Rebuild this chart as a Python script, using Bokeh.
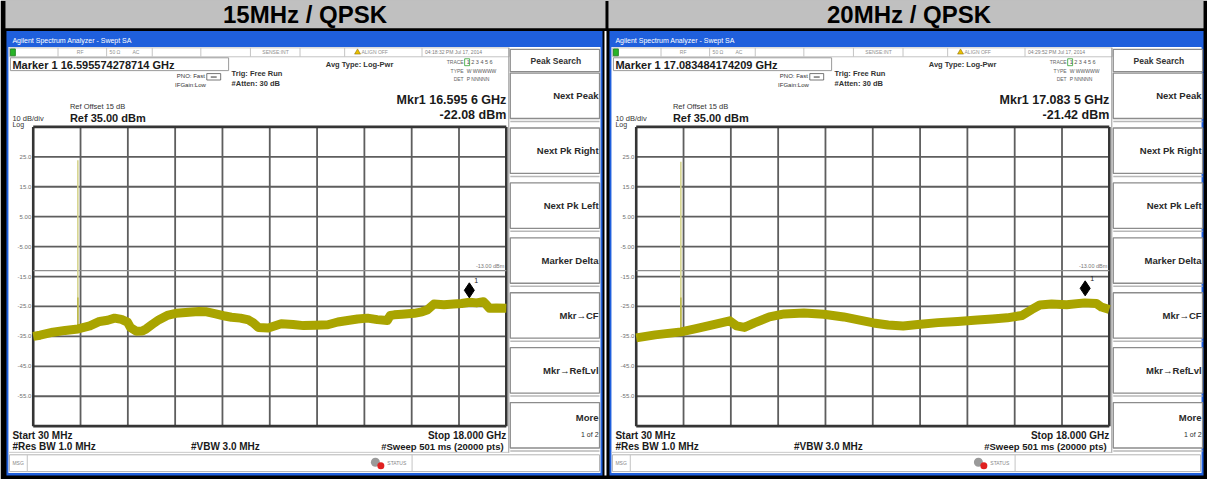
from bokeh.plotting import figure
from bokeh.models import Range1d
from bokeh.core.properties import value
from bokeh.embed import file_html
from bokeh.resources import INLINE

# ---------------- data ----------------
panel_titles = ["15MHz / QPSK", "20MHz / QPSK"]
marker_freq_text = ["16.595574278714 GHz", "17.083484174209 GHz"]
mkr_freq_label = ["16.595 6 GHz", "17.083 5 GHz"]
mkr_level_text = ["-22.08 dBm", "-21.42 dBm"]
mkr_freq_ghz = [16.5956, 17.0835]
mkr_level_dbm = [-22.08, -21.42]
timestamps = ["04:18:32 PM Jul 17, 2014", "04:29:52 PM Jul 17, 2014"]

f_start_ghz = 0.03
f_stop_ghz = 18.0
ref_level_dbm = 35.0
db_per_div = 10.0
display_line_dbm = -13.0
y_tick_values = [25, 15, 5, -5, -15, -25, -35, -45, -55]
y_tick_labels = ["25.0", "15.0", "5.00", "-5.00", "-15.0", "-25.0", "-35.0", "-45.0", "-55.0"]

spike_freq_ghz = [1.725, 1.725]
spike_top_dbm = [23.9, 23.4]
spike_base_dbm = [-32.5, -33.5]

trace1_freq = [0.03, 0.29, 0.78, 1.24, 1.73, 2.18, 2.55, 2.86, 3.12, 3.38, 3.61, 3.72,
               3.95, 4.17, 4.32, 4.55, 4.81, 5.12, 5.45, 5.94, 6.32, 6.62, 6.96, 7.26,
               7.56, 7.90, 8.21, 8.39, 8.58, 8.96, 9.45, 9.90, 10.30, 10.73, 11.22, 11.60,
               11.97, 12.35, 12.73, 13.10, 13.48, 13.59, 13.74, 14.04, 14.50, 14.80, 14.99,
               15.25, 15.63, 16.00, 16.30, 16.61, 16.87, 17.13, 17.25, 17.36, 17.62, 18.00]
trace1_dbm = [-35.0, -34.6, -33.6, -33.0, -32.5, -31.5, -30.0, -29.6, -28.9, -29.3, -30.2, -32.0,
              -33.3, -33.2, -32.5, -31.0, -29.4, -28.0, -27.3, -26.9, -26.7, -26.8, -27.5, -28.1,
              -28.6, -28.9, -29.5, -30.5, -32.0, -32.2, -30.8, -31.0, -31.4, -31.3, -31.1, -30.2,
              -29.7, -29.2, -28.9, -29.4, -29.7, -28.0, -27.8, -27.6, -27.3, -26.8, -26.2,
              -24.2, -24.4, -24.2, -24.0, -23.6, -23.8, -23.4, -24.5, -25.6, -25.5, -25.6]

trace2_freq = [0.03, 0.75, 1.73, 2.26, 3.01, 3.58, 3.84, 4.14, 4.52, 5.09, 5.65, 6.40,
               7.15, 7.91, 8.47, 9.04, 9.60, 10.17, 10.73, 11.49, 12.24, 12.99, 13.56, 14.12,
               14.69, 15.06, 15.36, 15.81, 16.38, 17.06, 17.51, 17.70, 18.00]
trace2_dbm = [-35.5, -34.5, -33.5, -32.5, -31.0, -29.8, -31.5, -32.0, -30.5, -28.5, -27.5, -27.2,
              -27.6, -28.5, -29.5, -30.5, -31.2, -31.5, -31.0, -30.4, -30.0, -29.5, -29.2, -28.8,
              -28.0, -26.0, -24.5, -24.2, -24.4, -23.8, -24.0, -25.2, -26.0]

traces_freq = [trace1_freq, trace2_freq]
traces_dbm = [trace1_dbm, trace2_dbm]

softkeys = ["Next Peak", "Next Pk Right", "Next Pk Left", "Marker Delta",
            "Mkr\u2192CF", "Mkr\u2192RefLvl", "More"]

# ---------------- layout (reference pixel units) ----------------
W, H = 1217.0, 485.0
OX = [0, 608]
GL = [33.0, 641.0]
GR = [510.0, 1118.0]
GT, GB = 128.0, 431.0
BLUE = "#1f5fdc"
TRACE = "#a9a400"
GRID = "#5e5e5e"

FONT = value("Liberation Sans")

p = figure(width=1207, height=479, x_range=Range1d(0, W), y_range=Range1d(H, 0),
           x_axis_type=None, y_axis_type=None, output_backend="svg",
           toolbar_location=None, min_border=0, outline_line_color=None,
           background_fill_color="white", border_fill_color="white")

px_per_db = (GB - GT) / (10 * db_per_div)
db_top = ref_level_dbm + GT / px_per_db
db_bot = db_top - H / px_per_db
p.extra_y_ranges = {"db": Range1d(db_bot, db_top)}
xr = {}
for i in range(2):
    s = (GR[i] - GL[i]) / (f_stop_ghz - f_start_ghz)
    st = f_start_ghz - GL[i] / s
    xr["f%d" % i] = Range1d(st, st + W / s)
p.extra_x_ranges = xr


def box(l, r, t, b, fill, line=None, lw=1.0):
    p.quad(left=[l], right=[r], top=[t], bottom=[b], fill_color=fill,
           line_color=line, line_width=lw)


def seg(x0, y0, x1, y1, color, w=1.0):
    p.segment(x0=[x0], y0=[y0], x1=[x1], y1=[y1], line_color=color, line_width=w)


def txt(x, y, s, size, bold=False, align="left", color="#222222", baseline="middle"):
    p.text(x=[x], y=[y], text=[s], text_font=FONT, text_font_size="%.1fpx" % size,
           text_font_style="bold" if bold else "normal", text_align=align,
           text_baseline=baseline, text_color=color)


# ---------------- table ----------------
box(0, W, 0, H, "black")
box(5, 610, 0, 28, "#c0c0c0")
box(613, 1213, 0, 28, "#c0c0c0")
box(609, 611, 31, 481, "white")
txt(307, 14, panel_titles[0], 24, bold=True, align="center", color="black")
txt(916, 14, panel_titles[1], 24, bold=True, align="center", color="black")

for i in range(2):
    ox = OX[i]
    fr = "f%d" % i
    right_edge = 607 + ox if i == 0 else 1213
    # window frame
    box(6 + ox, right_edge, 31, 481, BLUE)
    box(8 + ox, right_edge - 2, 47, 478.5, "white")
    txt(12 + ox, 40.5, "Agilent Spectrum Analyzer - Swept SA", 7, color="white")

    # status row
    box(9 + ox, 513 + ox, 48, 57, "white", "#c4c4c4", 1)
    for sx in [58, 107, 153, 202, 252, 302, 347, 425]:
        seg(sx + ox, 48, sx + ox, 57, "#c4c4c4", 1)
    box(10 + ox, 15 + ox, 49, 56, "#28b428", "#147814", 0.8)
    txt(77 + ox, 52.5, "RF", 5, color="#909090")
    txt(110 + ox, 52.5, "50 \u03a9", 5, color="#909090")
    txt(133 + ox, 52.5, "AC", 5, color="#909090")
    txt(264 + ox, 52.5, "SENSE:INT", 5, color="#909090")
    p.scatter(x=[360 + ox], y=[52.5], marker="triangle", size=6, fill_color="#e8c000",
              line_color="#806000", line_width=0.5)
    txt(364 + ox, 52.5, "ALIGN OFF", 5, color="#909090")
    txt(428 + ox, 52.5, timestamps[i], 5, color="#808080")

    # marker box and setup texts
    box(10 + ox, 230 + ox, 58, 71, "white", "#9a9a9a", 1)
    txt(12 + ox, 65, "Marker 1 " + marker_freq_text[i], 11, bold=True, color="#1a1a1a")
    txt(206 + ox, 76.5, "PNO: Fast", 6, align="right", color="#333333")
    box(208 + ox, 222 + ox, 74, 80.5, "white", "#555555", 0.8)
    seg(212 + ox, 77.5, 218 + ox, 77.5, "#333333", 1)
    txt(207 + ox, 86, "IFGain:Low", 6, align="right", color="#333333")
    txt(233 + ox, 74, "Trig: Free Run", 7.5, bold=True, color="#333333")
    txt(233 + ox, 84, "#Atten: 30 dB", 7.5, bold=True, color="#333333")
    txt(328 + ox, 65, "Avg Type: Log-Pwr", 7.5, bold=True, color="#333333")
    txt(467 + ox, 62.5, "TRACE", 5, align="right", color="#666666")
    txt(467 + ox, 71, "TYPE", 5, align="right", color="#666666")
    txt(467 + ox, 79.5, "DET", 5, align="right", color="#666666")
    box(468 + ox, 473 + ox, 59, 66, "white", "#30a030", 0.8)
    txt(470 + ox, 62.5, "1 2 3 4 5 6", 5.5, color="#555555")
    txt(470 + ox, 71, "W WWWWW", 5, color="#555555")
    txt(470 + ox, 79.5, "P NNNNN", 5, color="#555555")
    txt(510 + ox, 101, "Mkr1 " + mkr_freq_label[i], 12.5, bold=True, align="right", color="#1a1a1a")
    txt(510 + ox, 116, mkr_level_text[i], 12.5, bold=True, align="right", color="#1a1a1a")
    txt(70 + ox, 107.5, "Ref Offset 15 dB", 7.5, color="#333333")
    txt(12 + ox, 119.5, "10 dB/div", 7.5, color="#333333")
    txt(70 + ox, 118.5, "Ref 35.00 dBm", 11, bold=True, color="#1a1a1a")
    txt(12 + ox, 126, "Log", 7, color="#333333")

    # graticule
    xs = [f_start_ghz + j * (f_stop_ghz - f_start_ghz) / 10 for j in range(11)]
    ys = [ref_level_dbm - j * db_per_div for j in range(11)]
    bottom_db = ys[-1]
    p.segment(x0=xs[1:-1], y0=[bottom_db] * 9, x1=xs[1:-1], y1=[ref_level_dbm] * 9,
              line_color=GRID, line_width=1.8, x_range_name=fr, y_range_name="db")
    p.segment(x0=[f_start_ghz] * 9, y0=ys[1:-1], x1=[f_stop_ghz] * 9, y1=ys[1:-1],
              line_color=GRID, line_width=1.8, x_range_name=fr, y_range_name="db")
    p.segment(x0=[f_start_ghz, f_stop_ghz, f_start_ghz, f_start_ghz],
              y0=[bottom_db, bottom_db, ref_level_dbm, bottom_db],
              x1=[f_start_ghz, f_stop_ghz, f_stop_ghz, f_stop_ghz],
              y1=[ref_level_dbm, ref_level_dbm, ref_level_dbm, bottom_db],
              line_color="#353535", line_width=2.6, x_range_name=fr, y_range_name="db")
    p.segment(x0=[f_start_ghz], y0=[display_line_dbm], x1=[f_stop_ghz], y1=[display_line_dbm],
              line_color="#8c8c8c", line_width=1.2, x_range_name=fr, y_range_name="db")
    p.text(x=[f_stop_ghz], y=[display_line_dbm], text=["%.2f dBm" % display_line_dbm],
           x_offset=-2, y_offset=-1.5, text_font=FONT, text_font_size="5.5px",
           text_align="right", text_baseline="bottom", text_color="#777777",
           x_range_name=fr, y_range_name="db")
    p.text(x=[31 + ox] * len(y_tick_values), y=y_tick_values, text=y_tick_labels,
           text_font=FONT, text_font_size="6px", text_align="right", text_baseline="middle",
           text_color="#707070", y_range_name="db")

    # trace
    p.segment(x0=[spike_freq_ghz[i]], y0=[spike_base_dbm[i]], x1=[spike_freq_ghz[i]],
              y1=[spike_top_dbm[i]], line_color="#d6d48e", line_width=1.6,
              x_range_name=fr, y_range_name="db")
    p.segment(x0=[spike_freq_ghz[i]], y0=[spike_base_dbm[i]], x1=[spike_freq_ghz[i]],
              y1=[-22.0], line_color="#bdb94a", line_width=1.6,
              x_range_name=fr, y_range_name="db")
    p.line(x=traces_freq[i], y=traces_dbm[i], line_color=TRACE, line_width=9,
           line_join="round", x_range_name=fr, y_range_name="db")

    # marker
    p.scatter(x=[mkr_freq_ghz[i]], y=[mkr_level_dbm[i] + 7.5 / px_per_db], marker="diamond",
              size=15, fill_color="black", line_color="black",
              x_range_name=fr, y_range_name="db")
    p.text(x=[mkr_freq_ghz[i]], y=[mkr_level_dbm[i]], text=["1"], x_offset=5, y_offset=-17,
           text_font=FONT, text_font_size="7px", text_baseline="middle", text_color="#222222",
           x_range_name=fr, y_range_name="db")

    # bottom annotation
    txt(12 + ox, 440, "Start 30 MHz", 10, bold=True, color="#1a1a1a")
    txt(12 + ox, 451.5, "#Res BW 1.0 MHz", 10, bold=True, color="#1a1a1a")
    txt(192 + ox, 451.5, "#VBW 3.0 MHz", 10, bold=True, color="#1a1a1a")
    txt(510 + ox, 440, "Stop 18.000 GHz", 10, bold=True, align="right", color="#1a1a1a")
    txt(510 + ox, 451.5, "#Sweep  501 ms (20000 pts)", 9.5, bold=True, align="right", color="#1a1a1a")
    seg(8 + ox, 457.5, 512 + ox, 457.5, "#c8c8c8", 1)

    # status bar
    box(9 + ox, right_edge - 3, 460, 477, "white", "#b4b4b4", 1)
    seg(27 + ox, 460, 27 + ox, 477, "#c4c4c4", 1)
    seg(415 + ox, 460, 415 + ox, 477, "#c4c4c4", 1)
    txt(12 + ox, 468.5, "MSG", 5, color="#888888")
    p.scatter(x=[378 + ox], y=[467.5], marker="circle", size=9, fill_color="#9a9a9a",
              line_color=None)
    p.scatter(x=[383.5 + ox], y=[471], marker="circle", size=7, fill_color="#e02020",
              line_color=None)
    txt(390 + ox, 468.5, "STATUS", 5, color="#888888")

    # softkeys
    seg(512.5 + ox, 48, 512.5 + ox, 458, "#9a9a9a", 1)
    box(514 + ox, 604 + ox, 49.5, 72, "white", "#8c8c8c", 1.2)
    txt(560 + ox, 61, "Peak Search", 8.5, bold=True, align="center", color="#333333")
    for k, lab in enumerate(softkeys):
        top = 73.5 + k * 55.6
        box(514 + ox, 604 + ox, top, top + 46, "white", "#8c8c8c", 1.3)
        seg(514 + ox, top + 49, 604 + ox, top + 49, "#b8b8b8", 1.5)
        if lab == "More":
            txt(603 + ox, top + 15, lab, 9.5, bold=True, align="right", color="#2a2a2a")
            txt(603 + ox, top + 32, "1 of 2", 7, align="right", color="#2a2a2a")
        else:
            txt(603 + ox, top + 23, lab, 9.5, bold=True, align="right", color="#2a2a2a")

open("out.html", "w").write(file_html(p, INLINE))
